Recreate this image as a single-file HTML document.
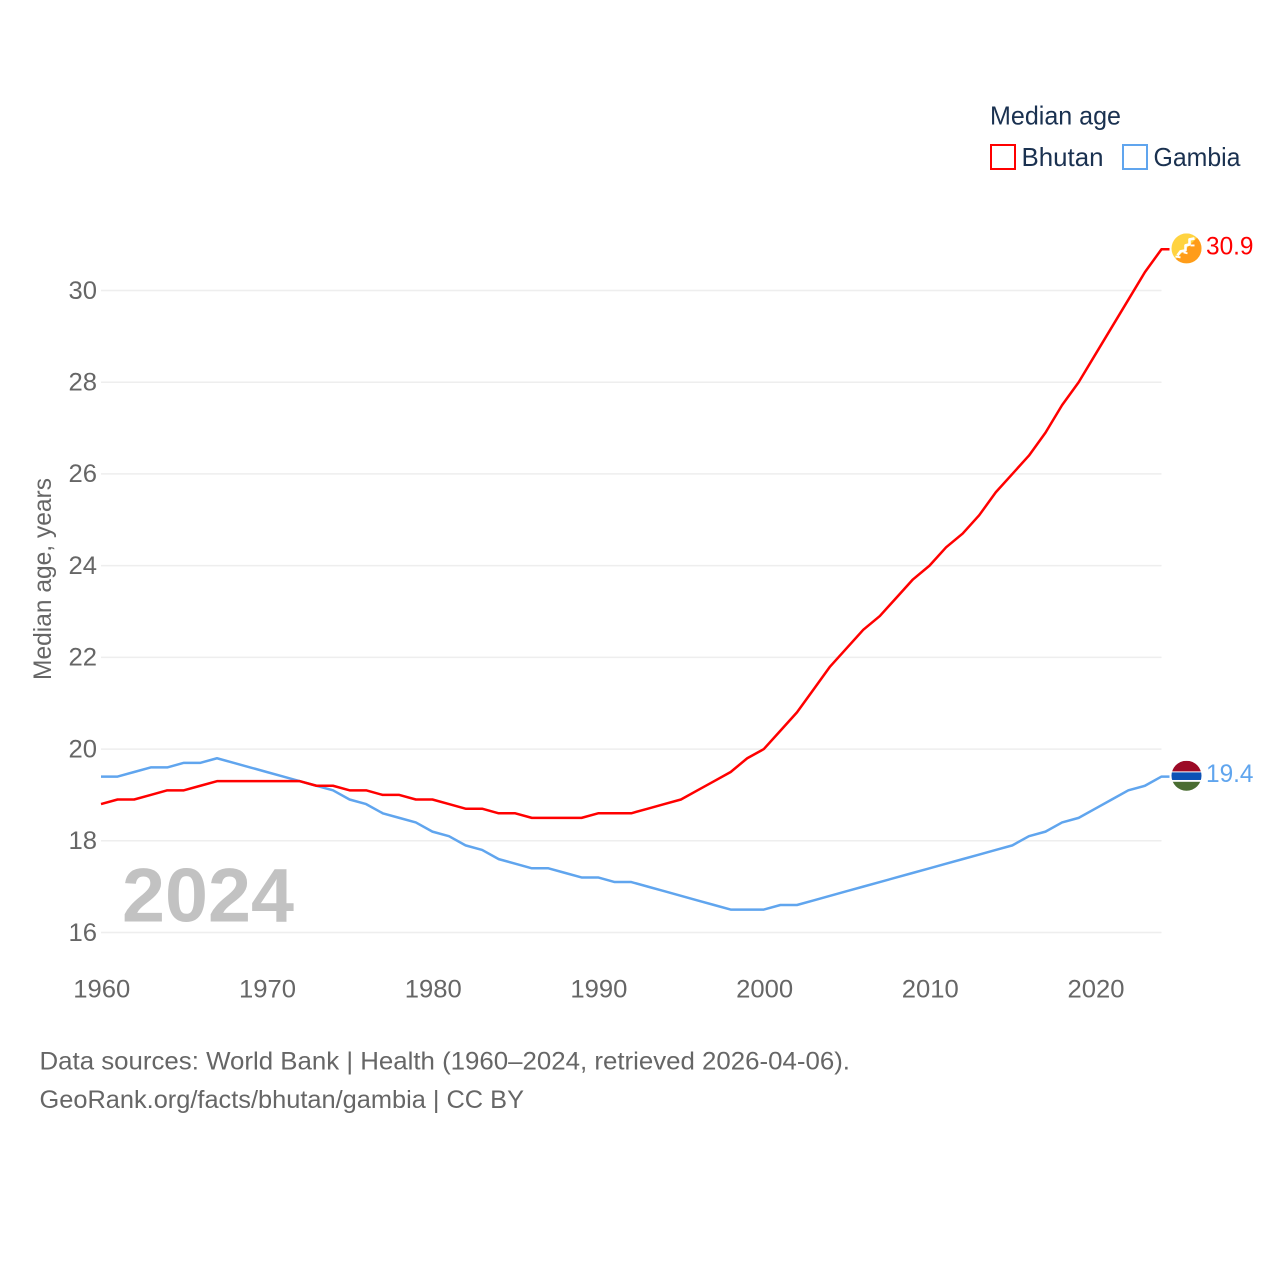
<!DOCTYPE html>
<html lang="en">
<head>
<meta charset="utf-8">
<title>Median age: Bhutan and Gambia</title>
<style>
html,body{margin:0;padding:0;background:#fff;}
svg{display:block;}
text{font-family:"Liberation Sans",sans-serif;}
</style>
</head>
<body>
<svg id="chart" xmlns="http://www.w3.org/2000/svg" width="1280" height="1280" viewBox="0 0 1280 1280">
  <defs>
    <clipPath id="flag-clip"><circle cx="0" cy="0" r="15"/></clipPath>
  </defs>
  <rect width="1280" height="1280" fill="#fff"/>
  <g id="grid"></g>
  <g id="y-ticks"></g>
  <g id="x-ticks"></g>
  <text transform="translate(51,579) rotate(-90)" text-anchor="middle" font-size="25" fill="#666" textLength="202" lengthAdjust="spacingAndGlyphs">Median age, years</text>
  <text x="122" y="921.5" font-size="76" font-weight="bold" fill="#c2c2c2" textLength="172" lengthAdjust="spacingAndGlyphs">2024</text>
  <path id="line-gambia" fill="none" stroke="#60a5ee" stroke-width="2.5" stroke-linejoin="round"/>
  <path id="line-bhutan" fill="none" stroke="#ff0000" stroke-width="2.5" stroke-linejoin="round"/>

  <g id="flag-bhutan">
    <g clip-path="url(#flag-clip)">
      <rect x="-15" y="-15" width="30" height="30" fill="#ffd340"/>
      <path d="M15,-15 L15,15 L-15,15 Z" fill="#ff9c1a"/>
      <path d="M8,-10 L3,-9 L3,-4 L-1,-3 L-1,2 L-6,3 L-9,7" fill="none" stroke="#fff" stroke-width="2.6" stroke-linejoin="round"/>
      <path d="M-11,8 L-6,9 M-3,4 L1,5 M4,-3 L8,-3" fill="none" stroke="#fff" stroke-width="1.8"/>
    </g>
  </g>
  <g id="flag-gambia">
    <g clip-path="url(#flag-clip)">
      <rect x="-15" y="-15" width="30" height="30" fill="#fff"/>
      <rect x="-15" y="-15" width="30" height="10.6" fill="#9c0a26"/>
      <rect x="-15" y="-3.4" width="30" height="7.6" fill="#0c51b5"/>
      <rect x="-15" y="6" width="30" height="9.5" fill="#4a6d32"/>
    </g>
  </g>
  <text id="value-bhutan" x="1206" font-size="25" fill="#ff0000" textLength="47.5" lengthAdjust="spacingAndGlyphs"></text>
  <text id="value-gambia" x="1206" font-size="25" fill="#60a5ee" textLength="47.5" lengthAdjust="spacingAndGlyphs"></text>

  <g>
    <text x="990" y="124.5" font-size="26" fill="#1a3150" textLength="131" lengthAdjust="spacingAndGlyphs">Median age</text>
    <g>
      <rect x="991" y="145" width="24" height="24" fill="none" stroke="#ff0000" stroke-width="2"/>
      <text x="1021.5" y="166" font-size="26" fill="#1a3150" textLength="82" lengthAdjust="spacingAndGlyphs">Bhutan</text>
    </g>
    <g>
      <rect x="1123" y="145" width="24" height="24" fill="none" stroke="#60a5ee" stroke-width="2"/>
      <text x="1153.5" y="166" font-size="26" fill="#1a3150" textLength="87" lengthAdjust="spacingAndGlyphs">Gambia</text>
    </g>
  </g>

  <text x="39.5" y="1069.5" font-size="25" fill="#666" textLength="810.5" lengthAdjust="spacingAndGlyphs">Data sources: World Bank | Health (1960–2024, retrieved 2026-04-06).</text>
  <text x="39.5" y="1108" font-size="25" fill="#666" textLength="484.5" lengthAdjust="spacingAndGlyphs">GeoRank.org/facts/bhutan/gambia | CC BY</text>
</svg>
<script>
const startYear = 1960;
const bhutan = [18.8,18.9,18.9,19.0,19.1,19.1,19.2,19.3,19.3,19.3,19.3,19.3,19.3,19.2,19.2,19.1,19.1,19.0,19.0,18.9,18.9,18.8,18.7,18.7,18.6,18.6,18.5,18.5,18.5,18.5,18.6,18.6,18.6,18.7,18.8,18.9,19.1,19.3,19.5,19.8,20.0,20.4,20.8,21.3,21.8,22.2,22.6,22.9,23.3,23.7,24.0,24.4,24.7,25.1,25.6,26.0,26.4,26.9,27.5,28.0,28.6,29.2,29.8,30.4,30.9];
const gambia = [19.4,19.4,19.5,19.6,19.6,19.7,19.7,19.8,19.7,19.6,19.5,19.4,19.3,19.2,19.1,18.9,18.8,18.6,18.5,18.4,18.2,18.1,17.9,17.8,17.6,17.5,17.4,17.4,17.3,17.2,17.2,17.1,17.1,17.0,16.9,16.8,16.7,16.6,16.5,16.5,16.5,16.6,16.6,16.7,16.8,16.9,17.0,17.1,17.2,17.3,17.4,17.5,17.6,17.7,17.8,17.9,18.1,18.2,18.4,18.5,18.7,18.9,19.1,19.2,19.4];
const yTickValues = [16,18,20,22,24,26,28,30];
const xTickYears = [1960,1970,1980,1990,2000,2010,2020];

const NS = 'http://www.w3.org/2000/svg';
const plotLeft = 101, plotRight = 1161.5;
function xScale(year){ return plotLeft + (year - 1960) * (plotRight - plotLeft) / 64; }
function yScale(v){ return 932.5 - (v - 16) * (932.5 - 290.5) / 14; }

const gridGroup = document.getElementById('grid');
const yTickGroup = document.getElementById('y-ticks');
const xTickGroup = document.getElementById('x-ticks');

yTickValues.forEach(function(v){
  const line = document.createElementNS(NS, 'line');
  
  
  line.setAttribute('x1', plotLeft);
  line.setAttribute('x2', plotRight);
  line.setAttribute('y1', yScale(v));
  line.setAttribute('y2', yScale(v));
  line.setAttribute('stroke', '#eeeeee');
  line.setAttribute('stroke-width', '1.5');
  gridGroup.appendChild(line);

  const label = document.createElementNS(NS, 'text');
  
  
  label.setAttribute('x', 68.5);
  label.setAttribute('y', yScale(v) + 8.3);
  label.setAttribute('font-size', '25');
  label.setAttribute('fill', '#666');
  label.setAttribute('textLength', '28.5');
  label.setAttribute('lengthAdjust', 'spacingAndGlyphs');
  label.textContent = String(v);
  yTickGroup.appendChild(label);
});

xTickYears.forEach(function(year){
  const label = document.createElementNS(NS, 'text');
  
  
  label.setAttribute('x', xScale(year) - 27.7);
  label.setAttribute('y', 997.5);
  label.setAttribute('font-size', '25');
  label.setAttribute('fill', '#666');
  label.setAttribute('textLength', '57');
  label.setAttribute('lengthAdjust', 'spacingAndGlyphs');
  label.textContent = String(year);
  xTickGroup.appendChild(label);
});

function linePath(values){
  let d = '';
  values.forEach(function(v, i){
    d += (i ? 'L' : 'M') + xScale(startYear + i).toFixed(2) + ',' + yScale(v).toFixed(2);
  });
  const last = values[values.length - 1];
  d += 'L' + (xScale(startYear + values.length - 1) + 8).toFixed(2) + ',' + yScale(last).toFixed(2);
  return d;
}

function placeEnd(name, values){
  const last = values[values.length - 1];
  const y = yScale(last);
  document.getElementById('line-' + name).setAttribute('d', linePath(values));
  document.getElementById('flag-' + name).setAttribute('transform', 'translate(1186.5,' + (y - 0.8).toFixed(2) + ')');
  const label = document.getElementById('value-' + name);
  label.setAttribute('y', (y + 5.3).toFixed(2));
  label.textContent = last.toFixed(1);
}
placeEnd('gambia', gambia);
placeEnd('bhutan', bhutan);
</script>
</body>
</html>
